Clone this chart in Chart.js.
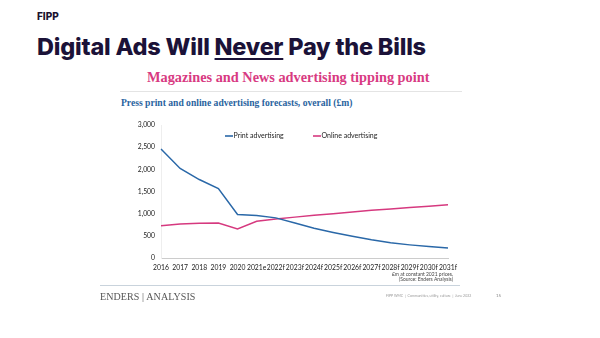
<!DOCTYPE html>
<html>
<head>
<meta charset="utf-8">
<script src="https://cdn.jsdelivr.net/npm/chart.js@4"></script>
<style>
  body { margin: 0; width: 600px; height: 338px; background: #fff; position: relative; overflow: hidden; font-family: Lato, sans-serif; }
  .abs { position: absolute; white-space: nowrap; }
  #logo { left: 37px; top: 10px; font: 800 10px Inter, sans-serif; color: #1b1230; }
  #headline { left: 37px; top: 32px; font: 800 23.5px Inter, sans-serif; color: #1b1238; letter-spacing: -0.2px; }
  #headline u { text-decoration-thickness: 2px; text-underline-offset: 3px; }
  #title { left: 147px; top: 69px; font: 600 14.3px "Liberation Serif", serif; color: #d83a82; }
  #rule1 { left: 120px; top: 91px; width: 342px; height: 1px; background: #e4e4e4; }
  #subtitle { left: 121px; top: 97px; font: 600 9.6px "Liberation Serif", serif; color: #2a64a0; }
  #wrap { left: 110px; top: 113px; width: 360px; height: 165px; }
  #note { right: 147px; top: 272px; font: 5px Lato, sans-serif; color: #444; text-align: right; line-height: 5px; }
  #rule2 { left: 100px; top: 285px; width: 360px; height: 1px; background: #c9d3dc; }
  #enders { left: 100px; top: 291px; font: 10px "Liberation Serif", serif; color: #555; letter-spacing: 0.1px; }
  #footer { left: 386px; top: 294px; font: 3.5px Lato, sans-serif; color: #999; }
  #page { left: 496px; top: 293px; font: 4.5px Lato, sans-serif; color: #888; }
</style>
</head>
<body>
<div class="abs" id="logo">FIPP</div>
<div class="abs" id="headline">Digital Ads Will <u>Never</u> Pay the Bills</div>
<div class="abs" id="title">Magazines and News advertising tipping point</div>
<div class="abs" id="rule1"></div>
<div class="abs" id="subtitle">Press print and online advertising forecasts, overall (£m)</div>
<div class="abs" id="wrap"><canvas id="chart"></canvas></div>
<div class="abs" id="note">£m at constant 2021 prices.<br>(Source: Enders Analysis)</div>
<div class="abs" id="rule2"></div>
<div class="abs" id="enders">ENDERS | ANALYSIS</div>
<div class="abs" id="footer">FIPP WMC &nbsp;|&nbsp; Communities, utility, culture &nbsp;|&nbsp; June 2022</div>
<div class="abs" id="page">15</div>
<script>
const years = ["2016", "2017", "2018", "2019", "2020", "2021e", "2022f", "2023f",
  "2024f", "2025f", "2026f", "2027f", "2028f", "2029f", "2030f", "2031f"];
const printAds = [2460, 2020, 1770, 1565, 980, 957, 905, 790, 670, 577, 490, 410, 342, 296, 258, 228];
const onlineAds = [729, 767, 785, 790, 655, 828, 880, 922, 962, 1000, 1040, 1075, 1108, 1140, 1170, 1200];

// legend drawn inside the plot, in one row
const inlineLegend = {
  id: "inlineLegend",
  afterDraw(chart) {
    const c = chart.ctx;
    const area = chart.chartArea;
    const starts = [area.left + 64, area.left + 152];
    c.save();
    c.font = "7px Lato";
    c.textBaseline = "middle";
    chart.data.datasets.forEach((ds, i) => {
      const x = starts[i];
      const y = area.top + 11;
      c.strokeStyle = ds.borderColor;
      c.lineWidth = 1.6;
      c.beginPath();
      c.moveTo(x, y);
      c.lineTo(x + 8, y);
      c.stroke();
      c.fillStyle = "#222";
      c.fillText(ds.label, x + 8.5, y);
    });
    c.restore();
  },
};

const ctx = document.getElementById("chart").getContext("2d");
new Chart(ctx, {
  type: "line",
  data: {
    labels: years,
    datasets: [
      {
        label: "Print advertising",
        data: printAds,
        borderColor: "#2a68a8",
        backgroundColor: "#2a68a8",
        borderWidth: 1.5,
        pointRadius: 0,
        tension: 0,
      },
      {
        label: "Online advertising",
        data: onlineAds,
        borderColor: "#d6397f",
        backgroundColor: "#d6397f",
        borderWidth: 1.5,
        pointRadius: 0,
        tension: 0,
      },
    ],
  },
  plugins: [inlineLegend],
  options: {
    responsive: true,
    maintainAspectRatio: false,
    animation: false,
    layout: { padding: { top: 12, right: 22, bottom: 0, left: 0 } },
    plugins: {
      legend: { display: false },
      tooltip: { enabled: false },
    },
    scales: {
      x: {
        grid: { display: false, drawTicks: true, tickLength: 3, color: "#ccc" },
        border: { color: "#ccc" },
        ticks: { color: "#1a1a1a", font: { family: "Lato", size: 6.8 }, maxRotation: 0, autoSkip: false, padding: 3 },
        afterFit: (scale) => { scale.height = 20; },
      },
      y: {
        min: 0,
        max: 3000,
        grid: { display: false, tickLength: 3, color: "#ddd" },
        border: { color: "#eee" },
        ticks: {
          stepSize: 500,
          color: "#1a1a1a",
          font: { family: "Lato", size: 6.8 },
          padding: 3,
          callback: (v) => v.toLocaleString("en-GB"),
        },
        afterFit: (scale) => { scale.width = 51; },
      },
    },
  },
});
</script>
</body>
</html>
